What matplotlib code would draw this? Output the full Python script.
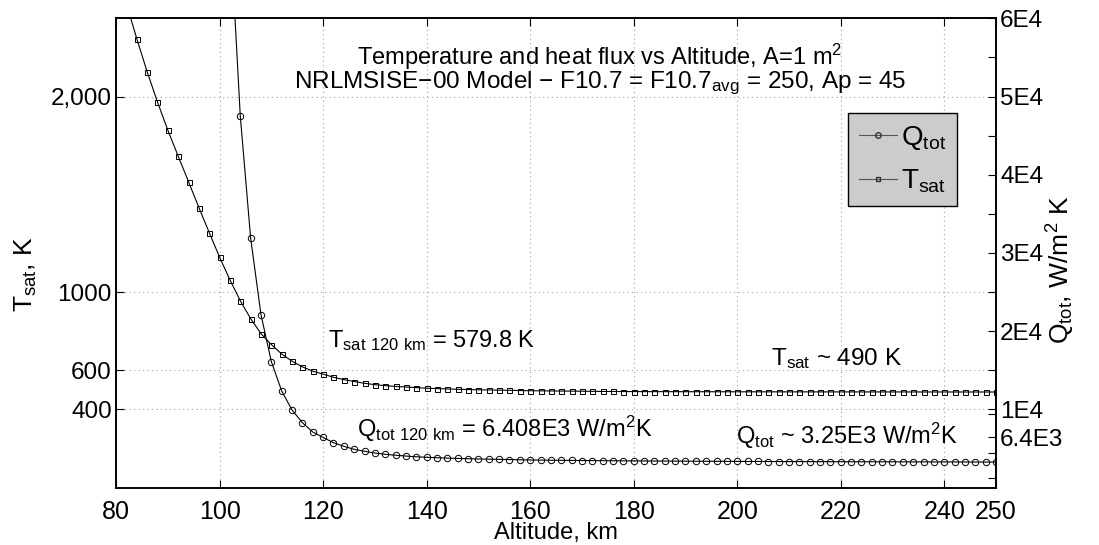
import matplotlib
matplotlib.use("Agg")
import matplotlib.pyplot as plt
from matplotlib.lines import Line2D

plt.rcParams['font.family'] = ['Liberation Sans', 'DejaVu Sans']
plt.rcParams['mathtext.fontset'] = 'custom'
plt.rcParams['mathtext.rm'] = 'Liberation Sans'
plt.rcParams['mathtext.default'] = 'regular'

# altitude grid, km
alt_t = list(range(82, 251, 2))
alt_q = list(range(102, 251, 2))

# satellite temperature, K
t_sat = [2475, 2296, 2127, 1972, 1828, 1695, 1564, 1432, 1304, 1178,
         1062, 955, 864, 787, 731, 683, 646, 617, 595, 579.8,
         564, 552, 542, 533, 526, 521, 517, 514, 511, 508,
         506, 504, 502.5, 501, 500, 499, 498, 497, 496, 495,
         494.5, 494, 493.5, 493, 492.5, 492, 491.5, 491.2, 490.9, 490.6,
         490.4, 490.3, 490.2, 490.1, 490.0, 489.9, 489.8, 489.7, 489.6, 489.5,
         489.4, 489.4, 489.3, 489.3, 489.2, 489.2, 489.1, 489.1, 489.0, 489.0,
         489.0, 488.9, 488.9, 488.9, 488.8, 488.8, 488.8, 488.7, 488.7, 488.7,
         488.6, 488.6, 488.6, 488.5, 488.5]

# total heat flux, W/m^2 K
q_tot = [72000, 47500, 31900, 22100, 16100, 12340, 9910, 8290, 7100, 6408,
         5730, 5270, 4880, 4630, 4410, 4250, 4130, 4020, 3930, 3860,
         3810, 3760, 3720, 3685, 3650, 3620, 3595, 3570, 3545, 3520,
         3505, 3490, 3476, 3463, 3451, 3440, 3430, 3420, 3411, 3402,
         3394, 3386, 3379, 3372, 3366, 3360, 3354, 3349, 3344, 3339,
         3334, 3329, 3325, 3321, 3317, 3313, 3309, 3305, 3302, 3299,
         3296, 3293, 3290, 3287, 3284, 3281, 3278, 3275, 3272, 3269,
         3266, 3263, 3260, 3256, 3252]

x_ticks = [80, 100, 120, 140, 160, 180, 200, 220, 240, 250]
t_ticks = [400, 600, 1000, 2000]
t_labels = ['400', '600', '1000', '2,000']
q_ticks = [6400, 10000, 20000, 30000, 40000, 50000, 60000]
q_labels = ['6.4E3', '1E4', '2E4', '3E4', '4E4', '5E4', '6E4']
q_minor = [1200, 4400, 9400, 15000, 25000, 35000, 45000, 55000]

fig = plt.figure(figsize=(10.99, 5.45), dpi=100)
ax = fig.add_axes([0.1056, 0.1055, 0.8007, 0.8609])
ax2 = ax.twinx()

ax.plot(alt_t, t_sat, color='k', lw=0.8, marker='s', ms=3.6, mfc='none',
        mec='k', mew=0.7)
ax2.plot(alt_q, q_tot, color='k', lw=0.8, marker='o', ms=4.6, mfc='none',
         mec='k', mew=0.7)

ax.set_xlim(80, 250)
ax.set_ylim(0, 2400)
ax2.set_ylim(0, 60000)

ax.set_xticks(x_ticks)
ax.set_xticklabels([str(v) for v in x_ticks])
ax.set_yticks(t_ticks)
ax.set_yticklabels(t_labels)
ax2.set_yticks(q_ticks)
ax2.set_yticklabels(q_labels)
ax2.set_yticks(q_minor, minor=True)

ax.tick_params(axis='x', direction='in', length=6, width=0.8, top=True,
               labelsize=18, pad=9)
ax.tick_params(axis='y', direction='in', length=6, width=0.8, right=False,
               labelsize=17.5, pad=3)
ax2.tick_params(axis='y', which='both', direction='in', length=6, width=0.8,
                labelsize=17.5, pad=3)

for a in (ax, ax2):
    for s in a.spines.values():
        s.set_linewidth(1.2)

# dotted grid from the temperature axis and the altitude ticks
for v in x_ticks[1:-1]:
    ax.axvline(v, color='#a0a0a0', lw=0.8, ls=(0, (1, 3)), zorder=0)
for v in t_ticks:
    ax.axhline(v, color='#a0a0a0', lw=0.8, ls=(0, (1, 3)), zorder=0)

ax.set_xlabel('Altitude, km', fontsize=17, va='center')
ax.xaxis.set_label_coords(0.5, -0.098)
ax.set_ylabel('T$_{sat}$, K', fontsize=19, va='center')
ax.yaxis.set_label_coords(-0.103, 0.455)
ax2.set_ylabel('Q$_{tot}$, W/m$^2$ K', fontsize=19, va='center', rotation=90)
ax2.yaxis.set_label_coords(1.074, 0.464)

ax.text(173.5, 2163, 'Temperature and heat flux vs Altitude, A=1 m$^2$',
        ha='center', va='baseline', fontsize=17)
ax.text(173.5, 2045,
        'NRLMSISE\u221200 Model \u2212 F10.7 = F10.7$_{avg}$ = 250, Ap = 45',
        ha='center', va='baseline', fontsize=17.5)

ax.text(121, 720, 'T$_{sat\\ 120\\ km}$ = 579.8 K', fontsize=17)
ax.text(126.6, 258, 'Q$_{tot\\ 120\\ km}$ = 6.408E3 W/m$^2$K', fontsize=17)
ax.text(206.5, 627, 'T$_{sat}$ ~ 490 K', fontsize=17.5)
ax.text(199.8, 222, 'Q$_{tot}$ ~ 3.25E3 W/m$^2$K', fontsize=17)

handles = [Line2D([], [], color='#555555', lw=0.8, marker='o', ms=4,
                  mfc='none', mec='#333333'),
           Line2D([], [], color='#555555', lw=0.8, marker='s', ms=3.4,
                  mfc='none', mec='#333333')]
leg = ax2.legend(handles, ['Q$_{tot}$', 'T$_{sat}$'], loc='upper left',
                 bbox_to_anchor=(848 / 1099, 1 - 113 / 545),
                 bbox_transform=fig.transFigure, borderaxespad=0,
                 fontsize=20, handlelength=1.35, handletextpad=0.15,
                 borderpad=0.4, labelspacing=0.55, fancybox=False,
                 framealpha=1, facecolor='#cccccc', edgecolor='k')
leg.get_frame().set_linewidth(1.0)

fig.savefig('out.png', dpi=100)
